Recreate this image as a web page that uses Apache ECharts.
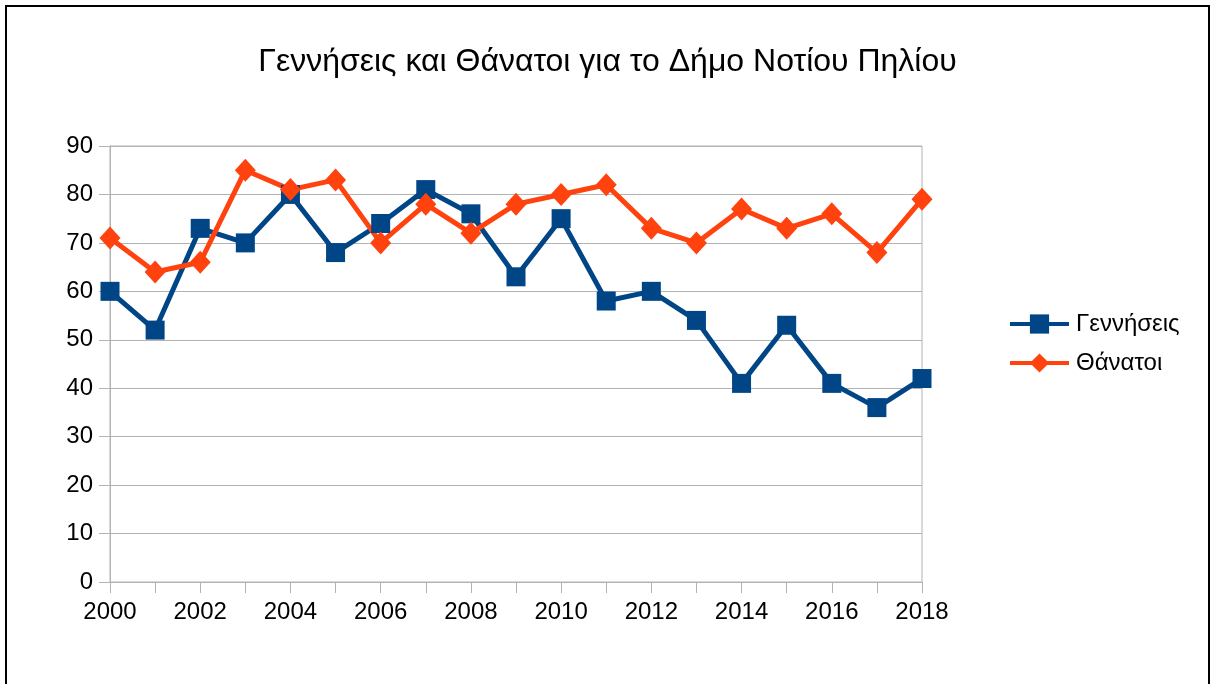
<!DOCTYPE html>
<html><head><meta charset="utf-8">
<script src="https://cdn.jsdelivr.net/npm/echarts@6/dist/echarts.min.js"></script>
<style>html,body{margin:0;padding:0;background:#fff}#c{width:1215px;height:684px}</style>
</head><body><div id="c"></div>
<script>
const years = ['2000','2001','2002','2003','2004','2005','2006','2007','2008','2009','2010','2011','2012','2013','2014','2015','2016','2017','2018'];
const births = [60,52,73,70,80,68,74,81,76,63,75,58,60,54,41,53,41,36,42];
const deaths = [71,64,66,85,81,83,70,78,72,78,80,82,73,70,77,73,76,68,79];
const titleText = 'Γεννήσεις και Θάνατοι για το Δήμο Νοτίου Πηλίου';
const seriesNames = ['Γεννήσεις','Θάνατοι'];

const chart = echarts.init(document.getElementById('c'), null, {renderer:'canvas'});
const font = 'Liberation Sans, Arial, sans-serif';
chart.setOption({
  animation:false,
  backgroundColor:'#fff',
  textStyle:{fontFamily:font},
  graphic:[{type:'rect',shape:{x:6,y:6,width:1203,height:700},style:{fill:'none',stroke:'#000',lineWidth:2},silent:true}],
  title:{text:titleText,left:'center',top:41,textStyle:{fontFamily:font,fontSize:32,fontWeight:'normal',color:'#000'}},
  legend:{orient:'vertical',left:1003,top:307,itemGap:15,itemWidth:59,itemHeight:24,
    lineStyle:{width:4},
    textStyle:{fontFamily:font,fontSize:24,color:'#000',padding:[0,0,0,2]},data:seriesNames},
  grid:{left:110,right:293,top:146,bottom:102,show:true,borderColor:'#b3b3b3',borderWidth:1,backgroundColor:'transparent'},
  xAxis:{type:'category',data:years,boundaryGap:false,
    axisLine:{lineStyle:{color:'#b3b3b3'}},
    axisTick:{show:true,length:11,interval:0,lineStyle:{color:'#b3b3b3'}},
    axisLabel:{interval:1,margin:18,fontSize:24,color:'#000',fontFamily:font},
    splitLine:{show:false}},
  yAxis:{type:'value',min:0,max:90,interval:10,
    axisLine:{show:true,lineStyle:{color:'#b3b3b3'}},
    axisTick:{show:true,length:11,lineStyle:{color:'#b3b3b3'}},
    axisLabel:{margin:17,fontSize:24,color:'#000',fontFamily:font},
    splitLine:{lineStyle:{color:'#b3b3b3'}}},
  series:[
    {name:seriesNames[0],type:'line',data:births,symbol:'rect',symbolSize:19,
     lineStyle:{width:5,color:'#004586'},itemStyle:{color:'#004586'}},
    {name:seriesNames[1],type:'line',data:deaths,symbol:'diamond',symbolSize:[21,23],
     lineStyle:{width:5,color:'#ff420e'},itemStyle:{color:'#ff420e'}}
  ]
});
</script></body></html>
